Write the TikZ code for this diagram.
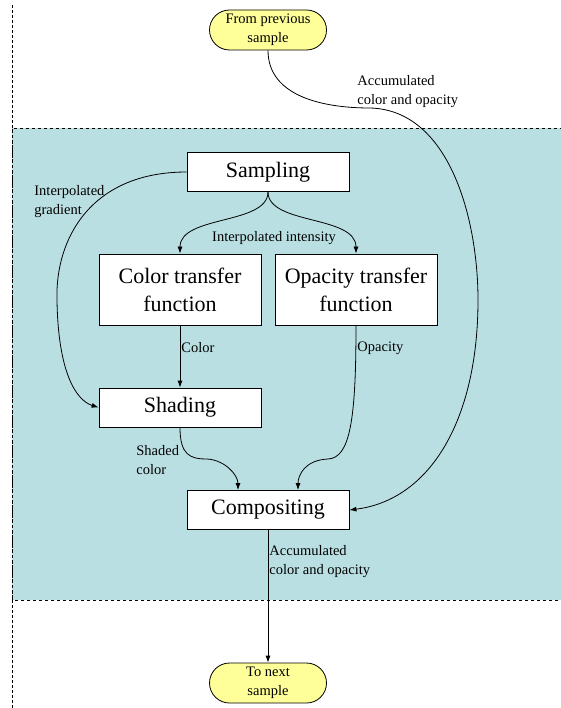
\documentclass[tikz,border=0pt]{standalone}
\usepackage{fontspec}
\setmainfont{Liberation Serif}
\usetikzlibrary{arrows.meta}

\begin{document}
\begin{tikzpicture}[x=1pt,y=1pt,yscale=-1,xscale=1,line width=0.8pt,
  stage/.style={draw,fill=white,minimum width=162pt,inner sep=1pt,align=center,font=\fontsize{22}{28}\selectfont},
  endpoint/.style={draw,fill=endyellow,rounded corners=20pt,minimum width=117pt,minimum height=40pt,inner sep=1pt,align=center,font=\fontsize{14.5}{19}\selectfont},
  lbl/.style={inner sep=1pt,align=left,font=\fontsize{14.5}{19}\selectfont},
  flow/.style={-{Latex[length=7pt,width=5pt]}}]
\definecolor{regionteal}{RGB}{185,223,226}
\definecolor{endyellow}{RGB}{255,255,153}
\useasboundingbox (0,0) rectangle (560,708);

%Region
\draw [fill=regionteal,dashed] (563,128) -- (12,128) -- (12,600) -- (563,600) ;
\draw [dash pattern=on 3pt off 2pt] (12,5) -- (12,708) ;

% Nodes
\node [endpoint] (prev) at (268,30) {From previous\\sample};
\node [stage,minimum height=39pt] (samp) at (268,172) {Sampling};
\node [stage,minimum height=71pt] (ctf) at (180,289.5) {Color transfer\\function};
\node [stage,minimum height=71pt] (otf) at (356,289.5) {Opacity transfer\\function};
\node [stage,minimum height=39pt] (shad) at (180,407.5) {Shading};
\node [stage,minimum height=39pt] (comp) at (268,510) {Compositing};
\node [endpoint] (next) at (268,683) {To next\\sample};

% Connectors
\draw [flow] (prev.south) .. controls (268,95) and (320,108) .. (370,108) .. controls (450,110) and (478,220) .. (478,300) .. controls (478,420) and (430,500) .. (comp.east) ;
\draw [flow] (samp.west) .. controls (90,172) and (55,240) .. (57,300) .. controls (58,370) and (75,400) .. (shad.west) ;
\draw [flow] (samp.south) .. controls (268,225) and (180,215) .. (ctf.north) ;
\draw [flow] (samp.south) .. controls (268,225) and (356,215) .. (otf.north) ;
\draw [flow] (ctf.south) -- (shad.north) ;
\draw [flow] (otf.south) .. controls (356,420) and (350,458) .. (328,459) .. controls (305,460) and (298,475) .. ([xshift=30pt]comp.north) ;
\draw [flow] (shad.south) .. controls (180,455) and (190,459) .. (207,459) .. controls (225,460) and (238,475) .. ([xshift=-30pt]comp.north) ;
\draw [flow] (comp.south) -- (next.north) ;

% Text Node
\node [lbl,anchor=west] (lacc1) at (356,92) {Accumulated\\color and opacity};
\node [lbl,anchor=west] (lgrad) at (33,202) {Interpolated\\gradient};
\node [lbl] (lint) at (274,238) {Interpolated intensity};
\node [lbl,anchor=west] (lcol) at (180,348) {Color};
\node [lbl,anchor=west] (lopa) at (356,348) {Opacity};
\node [lbl,anchor=west] (lshad) at (135,460) {Shaded\\color};
\node [lbl,anchor=west] (lacc2) at (268,562) {Accumulated\\color and opacity};
\end{tikzpicture}
\end{document}
